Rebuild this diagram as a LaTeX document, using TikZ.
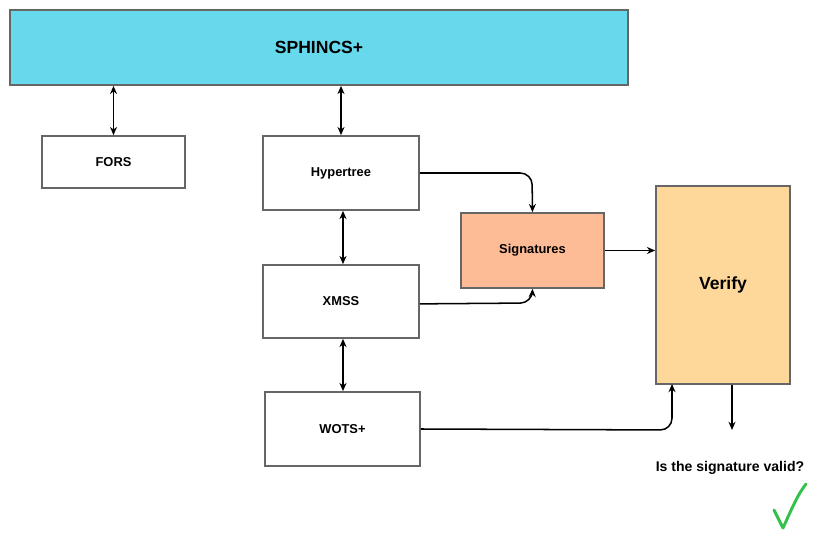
\documentclass[tikz,border=0pt]{standalone}
\usepackage{fontspec}
\setmainfont{Liberation Sans}
\usetikzlibrary{arrows.meta,positioning}
\definecolor{boxline}{HTML}{666666}
\definecolor{sphcol}{HTML}{66D9EC}
\definecolor{sigcol}{HTML}{FDBB96}
\definecolor{vercol}{HTML}{FED79A}
\definecolor{okcol}{HTML}{33C14A}
\tikzset{
  block/.style={draw=boxline, line width=1.5pt, fill=white, align=center, font=\bfseries\fontsize{11}{13}\selectfont},
  link/.style={-{Stealth[length=7pt,width=6pt]}, line width=1.3pt, rounded corners=10pt},
  both/.style={{Stealth[length=7pt,width=6pt]}-{Stealth[length=7pt,width=6pt]}, line width=1.3pt}
}
\begin{document}
\begin{tikzpicture}[x=0.03cm,y=-0.03cm]
\useasboundingbox (0,0) rectangle (836,542);
\node [block, fill=sphcol, minimum width=18.54cm, minimum height=2.25cm, font=\bfseries\fontsize{15}{17}\selectfont] (sph) at (319,47.5) {SPHINCS+};
\node [block, minimum width=4.29cm, minimum height=1.56cm] (fors) at (113.5,162) {FORS};
\node [block, minimum width=4.68cm, minimum height=2.22cm] (hyp) at (341,173) {Hypertree};
\node [block, minimum width=4.68cm, minimum height=2.19cm] (xmss) at (341,301.5) {XMSS};
\node [block, minimum width=4.65cm, minimum height=2.22cm] (wots) at (342.5,429) {WOTS+};
\node [block, fill=sigcol, minimum width=4.29cm, minimum height=2.25cm] (sig) at (532.5,250.5) {Signatures};
\node [block, fill=vercol, minimum width=4.02cm, minimum height=5.94cm, font=\bfseries\fontsize{15}{17}\selectfont] (ver) at (723,285) {Verify};
\node [font=\bfseries\fontsize{12}{14}\selectfont] (q) at (730,468) {Is the signature valid?};
\coordinate (vend) at (732,430);
% connectors
\draw [both] (sph.south -| fors) -- (fors);
\draw [both] (sph.south -| hyp) -- (hyp);
\draw [both] (hyp.south -| 343,0) -- (xmss.north -| 343,0);
\draw [both] (xmss.south -| 343,0) -- (wots.north -| 343,0);
\draw [link] (hyp.east) -- (532,173) -- (sig.north);
\draw [link] (xmss.south east) ++(0,-35) -- (532,303) -- (sig.south);
\draw [link] (sig) -- (ver.west |- sig);
\draw [link] (wots.east) -- (672,430) -- (672,384);
\draw [link] (ver.south -| vend) -- (vend);
% check mark
\draw [okcol, line width=2.5pt, line cap=round, line join=round] (774,510) -- (783,528) .. controls (792,508) and (798,494) .. (806,484);
\end{tikzpicture}
\end{document}
